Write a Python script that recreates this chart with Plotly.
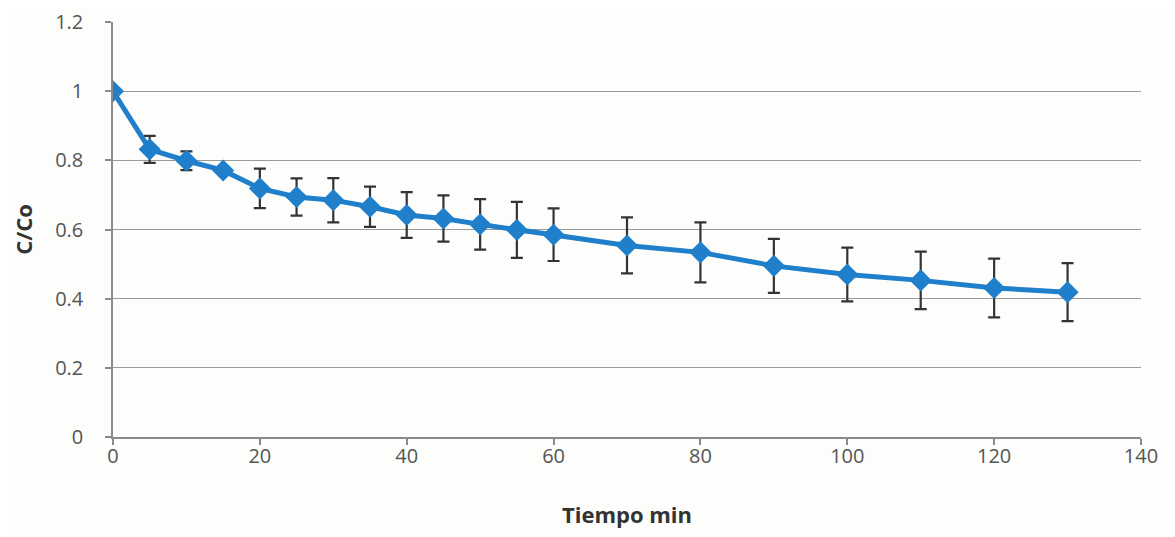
import plotly.graph_objects as go

tiempo = [0, 5, 10, 15, 20, 25, 30, 35, 40, 45, 50, 55, 60, 70, 80, 90, 100, 110, 120, 130]
c_co = [1.0, 0.832, 0.799, 0.771, 0.719, 0.694, 0.685, 0.666, 0.642, 0.632, 0.615, 0.599,
        0.585, 0.554, 0.534, 0.495, 0.470, 0.453, 0.431, 0.419]
error = [0.0, 0.039, 0.027, 0.008, 0.057, 0.054, 0.064, 0.058, 0.066, 0.067, 0.073, 0.081,
         0.076, 0.081, 0.087, 0.078, 0.078, 0.083, 0.085, 0.084]

x_ticks = [0, 20, 40, 60, 80, 100, 120, 140]
y_ticks = [0, 0.2, 0.4, 0.6, 0.8, 1, 1.2]
y_tick_labels = ["0", "0.2", "0.4", "0.6", "0.8", "1", "1.2"]

fig = go.Figure()
fig.add_trace(go.Scatter(
    x=tiempo, y=c_co,
    mode="lines+markers",
    line=dict(color="#1f7fca", width=5),
    marker=dict(symbol="diamond", size=17, color="#1f7fca"),
    error_y=dict(type="data", array=error, visible=True, color="#333333", thickness=2.2, width=6),
    showlegend=False,
))

font_family = "Open Sans, Lato, sans-serif"
fig.update_layout(
    width=1159, height=521,
    margin=dict(l=105, r=26, t=14, b=92, autoexpand=False),
    paper_bgcolor="#fdfdfb",
    plot_bgcolor="#fdfdfb",
    font=dict(family=font_family, color="#555555", size=20),
    xaxis=dict(
        range=[0, 140], tickvals=x_ticks, ticktext=[str(v) for v in x_ticks],
        showgrid=False, showline=True, linecolor="#8a8a8a", linewidth=1.5,
        ticks="outside", ticklen=6, tickcolor="#8a8a8a", tickwidth=1.5,
        zeroline=False, automargin=False, ticklabeloverflow="allow",
        ticklabelstandoff=-6,
        title=dict(text="<b>Tiempo min</b>", font=dict(size=22, color="#333333"), standoff=52),
        tickfont=dict(size=20, color="#555555"),
    ),
    yaxis=dict(
        range=[0, 1.2003], tickvals=y_ticks, ticktext=y_tick_labels,
        showgrid=True, gridcolor="#9a9a9a", gridwidth=1.2,
        showline=True, linecolor="#8a8a8a", linewidth=1.5,
        ticks="outside", ticklen=6, tickcolor="#8a8a8a", tickwidth=1.5,
        zeroline=False, automargin=False, ticklabeloverflow="allow",
        ticklabelstandoff=18,
        title=dict(text="<b>C/Co</b>", font=dict(size=22, color="#333333"), standoff=16),
        tickfont=dict(size=20, color="#555555"),
    ),
)

fig.write_html("out.html")
